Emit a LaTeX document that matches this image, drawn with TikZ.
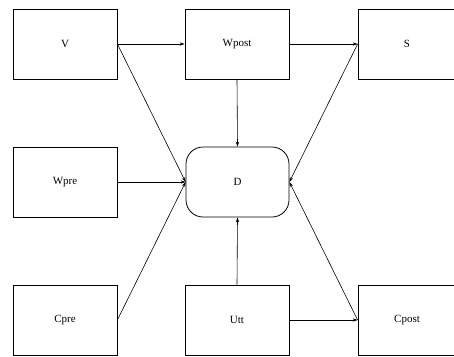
\documentclass[tikz,border=0pt]{standalone}
\usepackage{fontspec}
\setmainfont{Liberation Serif}
\usetikzlibrary{arrows.meta}
\begin{document}
\begin{tikzpicture}[x=1pt,y=-1pt,
  box/.style={draw, line width=0.8pt, minimum width=104pt, minimum height=70pt,
    inner sep=0pt, font=\fontsize{11}{13}\selectfont},
  edgebox/.style={box, minimum width=98pt},
  roundbox/.style={box, minimum width=103pt, rounded corners=17pt},
  link/.style={line width=0.6pt, -{Stealth[length=5pt,width=3.4pt]}}]
  \useasboundingbox (0,0) rectangle (454,356);

  % top row
  \node[box]     (v)     at (65,44)   {V};
  \node[box]     (wpost) at (237,44)  {Wpost};
  \node[edgebox] (s)     at (407,44)  {S};
  % middle row
  \node[box]       (wpre) at (65,182)    {Wpre};
  \node[roundbox]  (d)    at (237.5,182) {D};
  % bottom row
  \node[box]     (cpre)  at (65,320)  {Cpre};
  \node[box]     (utt)   at (237,320) {Utt};
  \node[edgebox] (cpost) at (407,320) {Cpost};

  % connectors
  \draw[link] (v.east) -- (wpost.west);
  \draw[link] (wpost.east) -- (s.west);
  \draw[link] (wpost.south) -- (d.north);
  \draw[link] (v.east) -- (d.west);
  \draw[link] (wpre.east) -- (d.west);
  \draw[link] (cpre.east) -- (d.west);
  \draw[link] (utt.north) -- (d.south);
  \draw[link] (utt.east) -- (cpost.west);
  \draw[link] (s.west) -- (d.east);
  \draw[link] (cpost.west) -- (d.east);
\end{tikzpicture}
\end{document}
